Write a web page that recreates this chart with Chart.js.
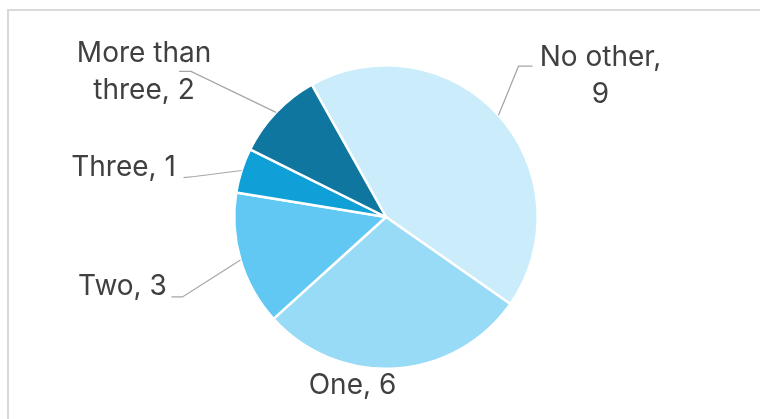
<!DOCTYPE html>
<html>
<head>
<meta charset="utf-8">
<script src="https://cdn.jsdelivr.net/npm/chart.js@4"></script>
<style>
  html, body { margin: 0; padding: 0; background: #fff; overflow: hidden; }
  #frame {
    position: absolute; left: 7px; top: 9px; width: 800px; height: 460px;
    border-left: 2px solid #d9d9d9; border-top: 2px solid #d9d9d9;
  }
  #wrap { position: absolute; left: 0; top: 0; width: 760px; height: 419px; }
</style>
</head>
<body>
<div id="frame"></div>
<div id="wrap"><canvas id="pie-chart" width="760" height="419"></canvas></div>
<script>
const categories = ['No other', 'One', 'Two', 'Three', 'More than three'];
const counts = [9, 6, 3, 1, 2];
const labelLines = [['No other,', '9'], ['One, 6'], ['Two, 3'], ['Three, 1'], ['More than', 'three, 2']];
const sliceColors = ['#cbedfb', '#97dbf7', '#60c8f2', '#10a0d8', '#0e769f'];

// where each label sits relative to the edge of its slice, and the leader bends
const labelPlacement = [
  { text: [102, -39], leader: [[20, -49], [34, -49]] },
  { text: [-43, 17], leader: null },
  { text: [-118, 27], leader: [[-58, 37], [-69, 37]] },
  { text: [-118, -3], leader: [[-47, 6], [-58, 7]] },
  { text: [-132, -40], leader: [[-85, -41], [-97, -41]] }
];

const outsideLabels = {
  id: 'outsideLabels',
  afterDatasetsDraw(chart) {
    const ctx = chart.ctx;
    const arcs = chart.getDatasetMeta(0).data;
    ctx.save();
    arcs.forEach((arc, i) => {
      const mid = (arc.startAngle + arc.endAngle) / 2;
      const ax = arc.x + Math.cos(mid) * arc.outerRadius;
      const ay = arc.y + Math.sin(mid) * arc.outerRadius;
      const place = labelPlacement[i];
      if (place.leader) {
        ctx.strokeStyle = '#a6a6a6';
        ctx.lineWidth = 1.25;
        ctx.beginPath();
        ctx.moveTo(ax, ay);
        place.leader.forEach(p => ctx.lineTo(ax + p[0], ay + p[1]));
        ctx.stroke();
      }
      const lines = labelLines[i];
      const lineH = 37;
      const cx = ax + place.text[0];
      const cy = ay + place.text[1];
      ctx.fillStyle = '#404040';
      ctx.font = '28px Inter, "Open Sans", sans-serif';
      ctx.textAlign = 'center';
      ctx.textBaseline = 'middle';
      lines.forEach((line, k) => {
        ctx.fillText(line, cx, cy + (k - (lines.length - 1) / 2) * lineH);
      });
    });
    ctx.restore();
  }
};

const pieChart = new Chart(document.querySelector('#pie-chart'), {
  type: 'pie',
  data: {
    labels: categories,
    datasets: [{
      data: counts,
      backgroundColor: sliceColors,
      borderColor: '#ffffff',
      borderWidth: 2.5
    }]
  },
  options: {
    responsive: false,
    animation: false,
    rotation: -29.3,
    layout: { padding: { top: 64, bottom: 49, left: 233, right: 221 } },
    plugins: {
      legend: { display: false },
      tooltip: { enabled: false }
    }
  },
  plugins: [outsideLabels]
});
</script>
</body>
</html>
